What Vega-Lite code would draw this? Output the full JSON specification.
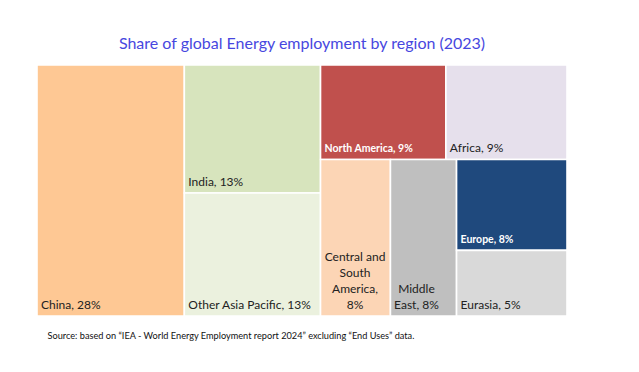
{
  "$schema": "https://vega.github.io/schema/vega-lite/v6.json",
  "autosize": "none",
  "width": 530,
  "height": 251,
  "padding": {"left": 37, "top": 65, "right": 72, "bottom": 56},
  "background": "white",
  "config": {"view": {"stroke": null}},
  "title": {
    "text": "Share of global Energy employment by region (2023)",
    "anchor": "middle",
    "font": "Lato",
    "fontSize": 16,
    "fontWeight": "normal",
    "color": "#4747E0",
    "offset": 12
  },
  "data": {
    "values": [
      {"region": "China", "share": 0.278, "ord": 1, "g1": "A", "g2": "China", "g3": "China", "label": "China, 28%"},
      {"region": "India", "share": 0.131, "ord": 2, "g1": "B", "g2": "India", "g3": "India", "label": "India, 13%"},
      {"region": "Other Asia Pacific", "share": 0.126, "ord": 3, "g1": "B", "g2": "OAP", "g3": "OAP", "label": "Other Asia Pacific, 13%"},
      {"region": "North America", "share": 0.089, "ord": 4, "g1": "C", "g2": "Top", "g3": "NA", "label": "North America, 9%"},
      {"region": "Africa", "share": 0.086, "ord": 5, "g1": "C", "g2": "Top", "g3": "Africa", "label": "Africa, 9%"},
      {"region": "Central and South America", "share": 0.0823, "ord": 6, "g1": "C", "g2": "Bottom", "g3": "CSA", "label": ["Central and", "South", "America,", "8%"]},
      {"region": "Middle East", "share": 0.0778, "ord": 7, "g1": "C", "g2": "Bottom", "g3": "ME", "label": ["Middle", "East, 8%"]},
      {"region": "Europe", "share": 0.0755, "ord": 8, "g1": "C", "g2": "Bottom", "g3": "EE", "label": "Europe, 8%"},
      {"region": "Eurasia", "share": 0.0545, "ord": 9, "g1": "C", "g2": "Bottom", "g3": "EE", "label": "Eurasia, 5%"}
    ]
  },
  "transform": [
    {"stack": "share", "groupby": [], "sort": [{"field": "ord", "order": "ascending"}], "offset": "normalize", "as": ["p0", "p1"]},
    {"joinaggregate": [{"op": "min", "field": "p0", "as": "X0"}, {"op": "max", "field": "p1", "as": "X1"}], "groupby": ["g1"]},
    {"stack": "share", "groupby": ["g1"], "sort": [{"field": "ord", "order": "ascending"}], "offset": "normalize", "as": ["q0", "q1"]},
    {"joinaggregate": [{"op": "min", "field": "q0", "as": "Q0"}, {"op": "max", "field": "q1", "as": "Q1"}], "groupby": ["g2"]},
    {"stack": "share", "groupby": ["g2"], "sort": [{"field": "ord", "order": "ascending"}], "offset": "normalize", "as": ["r0", "r1"]},
    {"joinaggregate": [{"op": "min", "field": "r0", "as": "R0"}, {"op": "max", "field": "r1", "as": "R1"}], "groupby": ["g3"]},
    {"stack": "share", "groupby": ["g3"], "sort": [{"field": "ord", "order": "ascending"}], "offset": "normalize", "as": ["s0", "s1"]},
    {"calculate": "datum.X0 + datum.R0 * (datum.X1 - datum.X0)", "as": "cx0"},
    {"calculate": "datum.X0 + datum.R1 * (datum.X1 - datum.X0)", "as": "cx1"},
    {"calculate": "datum.Q0 + datum.s0 * (datum.Q1 - datum.Q0)", "as": "cy0"},
    {"calculate": "datum.Q0 + datum.s1 * (datum.Q1 - datum.Q0)", "as": "cy1"}
  ],
  "encoding": {
    "x": {
      "field": "cx0", "type": "quantitative",
      "scale": {"domain": [0, 1], "nice": false, "zero": false},
      "axis": {
        "title": "Source: based on \u201cIEA - World Energy Employment report 2024\u201d excluding \u201cEnd Uses\u201d data.",
        "labels": false, "ticks": false, "domain": false, "grid": false,
        "titleAnchor": "start", "titleAlign": "left", "titleX": 10, "titleY": 22,
        "titleBaseline": "alphabetic", "titleFont": "Lato", "titleFontSize": 9.2,
        "titleFontWeight": "normal", "titleColor": "#111111"
      }
    },
    "y": {"field": "cy1", "type": "quantitative", "scale": {"domain": [0, 1], "nice": false, "zero": false, "reverse": true}, "axis": null}
  },
  "layer": [
    {
      "mark": {"type": "rect", "stroke": "white", "strokeWidth": 1.6},
      "encoding": {
        "x2": {"field": "cx1"},
        "y": {"field": "cy0", "type": "quantitative", "axis": null},
        "y2": {"field": "cy1"},
        "color": {
          "field": "region", "type": "nominal", "legend": null,
          "scale": {
            "domain": ["China", "India", "Other Asia Pacific", "North America", "Africa", "Central and South America", "Middle East", "Europe", "Eurasia"],
            "range": ["#FEC894", "#D7E4BD", "#EBF1DE", "#C0504D", "#E6E0EC", "#FCD5B5", "#BFBFBF", "#1F497D", "#D9D9D9"]
          }
        }
      }
    },
    {
      "transform": [{"filter": "indexof(['North America','Europe','Central and South America','Middle East'], datum.region) < 0"}],
      "mark": {"type": "text", "align": "left", "baseline": "alphabetic", "dx": 4, "dy": -7, "font": "Lato", "fontSize": 12, "color": "#222222"},
      "encoding": {"text": {"field": "label"}}
    },
    {
      "transform": [{"filter": "indexof(['North America','Europe'], datum.region) >= 0"}],
      "mark": {"type": "text", "align": "left", "baseline": "alphabetic", "dx": 4, "dy": -7, "font": "Lato", "fontSize": 10.5, "fontWeight": "bold", "color": "white"},
      "encoding": {"text": {"field": "label"}}
    },
    {
      "transform": [{"filter": "datum.region === 'Central and South America'"}],
      "mark": {"type": "text", "align": "center", "baseline": "alphabetic", "dx": 34.5, "dy": -55, "lineHeight": 16, "font": "Lato", "fontSize": 12, "color": "#222222"},
      "encoding": {"text": {"field": "label"}}
    },
    {
      "transform": [{"filter": "datum.region === 'Middle East'"}],
      "mark": {"type": "text", "align": "center", "baseline": "alphabetic", "dx": 26, "dy": -23, "lineHeight": 16, "font": "Lato", "fontSize": 12, "color": "#222222"},
      "encoding": {"text": {"field": "label"}}
    }
  ]
}
